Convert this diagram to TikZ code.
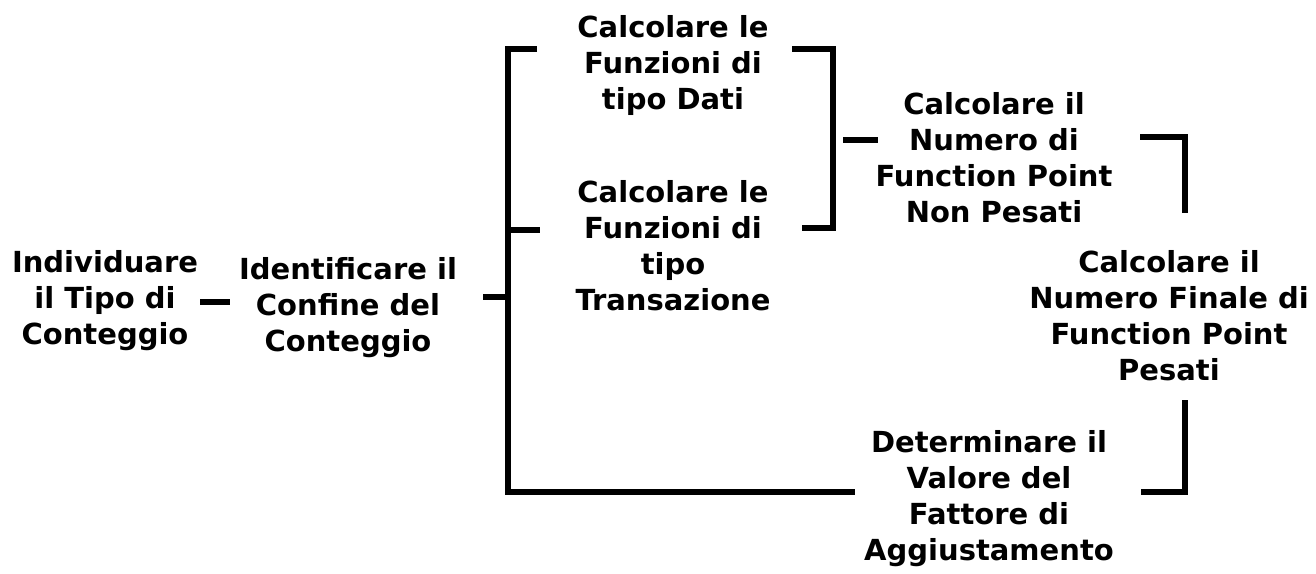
\documentclass[tikz,border=0pt]{standalone}
\usepackage{fontspec}
\setmainfont{DejaVu Sans}
\tikzset{
  lbl/.style={align=center, inner sep=0pt, font=\bfseries\fontsize{29}{36}\selectfont},
  bar/.style={line width=6pt, line cap=butt, line join=miter}
}
\begin{document}
\begin{tikzpicture}[x=1pt,y=-1pt]
\useasboundingbox (0,0) rectangle (1316,573);
% nodes
\node[lbl] (n1) at (105,301) {Individuare\\il Tipo di\\Conteggio};
\node[lbl] (n2) at (348,308) {Identificare il\\Confine del\\Conteggio};
\node[lbl] (n3) at (673,65) {Calcolare le\\Funzioni di\\tipo Dati};
\node[lbl] (n4) at (673,246) {Calcolare le\\Funzioni di\\tipo\\Transazione};
\node[lbl] (n5) at (994,158) {Calcolare il\\Numero di\\Function Point\\Non Pesati};
\node[lbl] (n6) at (1169,316) {Calcolare il\\Numero Finale di\\Function Point\\Pesati};
\node[lbl] (n7) at (989,499) {Determinare il\\Valore del\\Fattore di\\Aggiustamento};
% coordinates
\coordinate (d1a) at (200,302);
\coordinate (d1b) at (230,302);
\coordinate (s2a) at (483,297);
\coordinate (s2b) at (508,297);
\coordinate (lbTop) at (537,49);
\coordinate (lbTL) at (508,49);
\coordinate (lbBL) at (508,492);
\coordinate (lbBR) at (855,492);
\coordinate (s4a) at (508,230);
\coordinate (s4b) at (540,230);
\coordinate (rbTa) at (792,49);
\coordinate (rbTR) at (833,49);
\coordinate (rbBR) at (833,228);
\coordinate (rbBa) at (802,228);
\coordinate (s5a) at (843,140);
\coordinate (s5b) at (878,140);
\coordinate (r5a) at (1140,137);
\coordinate (r5TR) at (1185,137);
\coordinate (r5b) at (1185,213);
\coordinate (r7a) at (1185,400);
\coordinate (r7BR) at (1185,492);
\coordinate (r7b) at (1141,492);
% connectors
\draw[bar] (d1a) -- (d1b);
\draw[bar] (s2a) -- (s2b);
\draw[bar] (lbTop) -- (lbTL) -- (lbBL) -- (lbBR);
\draw[bar] (s4a) -- (s4b);
\draw[bar] (rbTa) -- (rbTR) -- (rbBR) -- (rbBa);
\draw[bar] (s5a) -- (s5b);
\draw[bar] (r5a) -- (r5TR) -- (r5b);
\draw[bar] (r7a) -- (r7BR) -- (r7b);
\end{tikzpicture}
\end{document}
